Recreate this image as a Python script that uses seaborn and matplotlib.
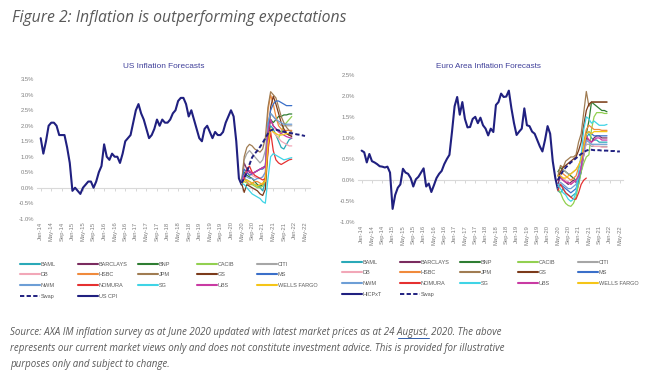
import numpy as np
import pandas as pd
import matplotlib
matplotlib.use("Agg")
import matplotlib.pyplot as plt
import seaborn as sns
from matplotlib.lines import Line2D

# ---------------- data ----------------
tick_labels = ["Jan-14", "May-14", "Sep-14", "Jan-15", "May-15", "Sep-15", "Jan-16", "May-16", "Sep-16",
               "Jan-17", "May-17", "Sep-17", "Jan-18", "May-18", "Sep-18", "Jan-19", "May-19", "Sep-19",
               "Jan-20", "May-20", "Sep-20", "Jan-21", "May-21", "Sep-21", "Jan-22", "May-22"]
forecasters = ["BAML", "BARCLAYS", "BNP", "CACIB", "CITI", "DB", "HSBC", "JPM", "GS", "MS",
               "NWM", "NOMURA", "SG", "UBS", "WELLS FARGO"]

# US CPI y/y %, Jan-14 .. May-20 (monthly)
us_cpi = [1.6, 1.1, 1.5, 2.0, 2.1, 2.1, 2.0, 1.7, 1.7, 1.7, 1.3, 0.8,
          -0.1, 0.0, -0.1, -0.2, 0.0, 0.1, 0.2, 0.2, 0.0, 0.2, 0.5, 0.7,
          1.4, 1.0, 0.9, 1.1, 1.0, 1.0, 0.8, 1.1, 1.5, 1.6, 1.7, 2.1,
          2.5, 2.7, 2.4, 2.2, 1.9, 1.6, 1.7, 1.9, 2.2, 2.0, 2.2, 2.1,
          2.1, 2.2, 2.4, 2.5, 2.8, 2.9, 2.9, 2.7, 2.3, 2.5, 2.2, 1.9,
          1.6, 1.5, 1.9, 2.0, 1.8, 1.6, 1.8, 1.7, 1.7, 1.8, 2.1, 2.3,
          2.5, 2.3, 1.5, 0.3, 0.1]
# US swap-implied path, May-20 .. May-22
us_swap = [0.15, 0.3, 0.5, 0.75, 0.98, 1.1, 1.2, 1.32, 1.45, 1.6, 1.75, 1.85, 1.88,
           1.87, 1.85, 1.83, 1.81, 1.79, 1.77, 1.76, 1.74, 1.72, 1.71, 1.69, 1.67]
# US forecasts, May-20 .. Dec-21
us_baml = [0.15, 0.3, 0.25, 0.2, 0.15, 0.1, 0.05, 0.0, -0.1, 0.2, 1.6, 2.0, 1.9, 1.7, 1.5, 1.3, 1.25, 1.4, 1.55, 1.6]
us_barclays = [0.15, 0.8, 0.6, 0.5, 0.45, 0.5, 0.55, 0.6, 0.65, 0.7, 1.9, 2.2, 2.0, 1.9, 1.85, 1.8, 1.8, 1.75, 1.7, 1.7]
us_bnp = [0.15, 0.5, 0.4, 0.35, 0.3, 0.2, 0.1, 0.05, 0.1, 0.3, 1.8, 2.2, 2.1, 2.2, 2.3, 2.3, 2.35, 2.35, 2.38, 2.38]
us_cacib = [0.15, 0.2, 0.15, 0.1, 0.1, 0.05, 0.0, 0.0, 0.05, 0.2, 1.5, 1.9, 1.8, 1.7, 1.6, 1.8, 2.0, 2.1, 2.2, 2.3]
us_citi = [0.15, 0.9, 1.1, 1.2, 1.1, 1.0, 0.9, 0.8, 0.9, 1.2, 2.0, 2.4, 2.3, 2.2, 2.1, 2.0, 2.0, 2.0, 2.0, 2.0]
us_db = [0.15, 0.4, 0.5, 0.45, 0.4, 0.35, 0.3, 0.3, 0.35, 0.5, 1.6, 1.9, 1.8, 1.7, 1.6, 1.5, 1.45, 1.4, 1.35, 1.35]
us_hsbc = [0.15, 0.3, 0.2, 0.1, 0.15, 0.2, 0.2, 0.15, 0.1, 0.3, 2.5, 3.0, 2.7, 2.3, 2.0, 1.9, 1.85, 1.85, 1.85, 1.85]
us_jpm = [0.15, 1.0, 1.3, 1.4, 1.35, 1.25, 1.2, 1.15, 1.25, 1.6, 2.6, 3.1, 3.0, 2.9, 2.6, 2.3, 2.1, 1.95, 1.85, 1.8]
us_gs = [0.15, -0.15, 0.1, 0.05, 0.0, -0.05, -0.1, -0.2, -0.25, -0.05, 1.2, 2.6, 2.95, 2.7, 2.4, 2.1, 1.9, 1.75, 1.7, 1.65]
us_ms = [0.15, 0.6, 0.5, 0.4, 0.45, 0.5, 0.55, 0.6, 0.6, 0.7, 2.0, 2.5, 2.7, 2.8, 2.8, 2.75, 2.7, 2.65, 2.65, 2.65]
us_nwm = [0.15, 0.4, 0.35, 0.3, 0.3, 0.25, 0.3, 0.3, 0.35, 0.5, 2.1, 2.4, 2.3, 2.2, 2.15, 2.1, 2.05, 2.05, 2.05, 2.05]
us_nomura = [0.15, 0.3, 0.6, 0.7, 0.5, 0.4, 0.35, 0.3, 0.25, 0.3, 1.2, 1.8, 1.2, 0.9, 0.8, 0.75, 0.8, 0.85, 0.9, 0.92]
us_sg = [0.15, 0.1, 0.0, -0.1, -0.2, -0.25, -0.3, -0.35, -0.45, -0.5, 0.3, 1.0, 1.1, 1.05, 1.0, 0.95, 0.9, 0.92, 0.95, 0.97]
us_ubs = [0.15, 0.4, 0.5, 0.55, 0.45, 0.5, 0.55, 0.6, 0.65, 0.65, 1.8, 2.2, 2.0, 1.9, 1.8, 1.75, 1.7, 1.65, 1.62, 1.6]
us_wells = [0.15, 0.2, 0.25, 0.2, 0.15, 0.1, 0.05, 0.1, 0.15, 0.2, 1.4, 1.9, 1.8, 1.75, 1.7, 1.7, 1.72, 1.75, 1.75, 1.75]

# Euro area HICPxT y/y %, Jan-14 .. May-20
ea_hicp = [0.70, 0.66, 0.42, 0.62, 0.45, 0.42, 0.38, 0.33, 0.32, 0.30, 0.32, 0.18,
           -0.68, -0.35, -0.18, -0.10, 0.27, 0.18, 0.15, 0.05, -0.15, 0.02, 0.08, 0.18,
           0.28, -0.15, -0.08, -0.28, -0.12, 0.05, 0.15, 0.22, 0.38, 0.50, 0.60, 1.15,
           1.75, 1.97, 1.55, 1.85, 1.45, 1.25, 1.26, 1.45, 1.50, 1.35, 1.48, 1.30,
           1.22, 1.06, 1.22, 1.14, 1.78, 1.85, 2.05, 1.97, 1.98, 2.12, 1.70, 1.35,
           1.07, 1.15, 1.22, 1.70, 1.30, 1.28, 1.15, 1.10, 0.95, 0.80, 0.68, 0.95,
           1.28, 1.10, 0.45, 0.05, -0.22]
# Euro swap-implied path, May-20 .. May-22
ea_swap = [0.0, 0.12, 0.22, 0.3, 0.36, 0.42, 0.47, 0.52, 0.57, 0.62, 0.66, 0.70, 0.72,
           0.72, 0.71, 0.71, 0.71, 0.70, 0.70, 0.70, 0.69, 0.69, 0.69, 0.68, 0.68]
# Euro forecasts, May-20 .. Dec-21
ea_baml = [-0.25, -0.30, -0.20, -0.30, -0.35, -0.40, -0.35, -0.30, -0.10, 0.20, 0.70, 1.00, 1.10, 1.00, 0.95, 0.95, 0.90, 0.90, 0.90, 0.90]
ea_barclays = [-0.10, 0.10, 0.00, -0.05, -0.10, -0.05, 0.00, -0.05, 0.00, 0.20, 0.60, 1.00, 0.95, 0.90, 1.00, 1.05, 1.05, 1.00, 1.00, 1.00]
ea_bnp = [0.20, 0.30, 0.25, 0.20, 0.15, 0.10, 0.05, 0.00, 0.10, 0.30, 0.60, 1.10, 1.40, 1.85, 1.80, 1.75, 1.70, 1.65, 1.65, 1.62]
ea_cacib = [-0.20, -0.30, -0.45, -0.55, -0.60, -0.62, -0.55, -0.40, -0.10, 0.20, 0.40, 0.55, 0.60, 1.20, 1.50, 1.60, 1.60, 1.60, 1.58, 1.58]
ea_citi = [0.10, 0.20, 0.25, 0.20, 0.15, 0.15, 0.20, 0.25, 0.35, 0.50, 0.70, 0.85, 0.85, 0.80, 0.80, 0.80, 0.80, 0.80, 0.80, 0.80]
ea_db = [0.00, 0.10, 0.05, 0.00, -0.05, -0.10, -0.05, 0.00, 0.10, 0.30, 0.60, 0.90, 0.95, 0.85, 0.80, 0.80, 0.80, 0.78, 0.78, 0.78]
ea_hsbc = [0.00, 0.20, 0.15, 0.10, 0.05, 0.00, 0.05, 0.10, 0.30, 0.50, 0.90, 1.20, 1.30, 1.25, 1.20, 1.20, 1.20, 1.18, 1.18, 1.18]
ea_jpm = [0.10, 0.35, 0.30, 0.45, 0.50, 0.55, 0.55, 0.60, 0.90, 1.10, 1.60, 2.10, 1.75, 1.85, 1.85, 1.85, 1.85, 1.85, 1.85, 1.85]
ea_gs = [0.00, 0.20, 0.30, 0.35, 0.40, 0.45, 0.50, 0.55, 0.70, 0.90, 1.30, 1.65, 1.80, 1.85, 1.85, 1.85, 1.85, 1.85, 1.85, 1.85]
ea_ms = [-0.20, -0.10, -0.15, -0.20, -0.25, -0.30, -0.25, -0.20, 0.00, 0.30, 0.80, 1.10, 1.15, 1.10, 1.05, 1.05, 1.05, 1.05, 1.05, 1.05]
ea_nwm = [-0.15, -0.05, -0.10, -0.15, -0.20, -0.20, -0.15, -0.10, 0.05, 0.30, 0.70, 0.95, 0.90, 0.85, 0.85, 0.85, 0.85, 0.85, 0.85, 0.85]
ea_nomura = [-0.25, -0.10, -0.20, -0.30, -0.35, -0.40, -0.45, -0.45, -0.30, -0.10, 0.00, 0.05]
ea_sg = [-0.10, -0.20, -0.30, -0.35, -0.45, -0.50, -0.45, -0.30, 0.20, 0.60, 1.20, 1.50, 1.45, 1.35, 1.40, 1.35, 1.30, 1.30, 1.30, 1.32]
ea_ubs = [0.00, 0.05, 0.00, -0.05, -0.05, -0.10, -0.05, 0.00, 0.10, 0.30, 0.80, 1.05, 0.95, 0.90, 0.95, 1.00, 1.00, 0.95, 0.95, 0.95]
ea_wells = [0.10, 0.10, 0.05, 0.05, 0.10, 0.15, 0.20, 0.25, 0.35, 0.50, 0.80, 1.10, 1.15, 1.10, 1.15, 1.15, 1.15, 1.15, 1.15, 1.15]

us_forecasts = [us_baml, us_barclays, us_bnp, us_cacib, us_citi, us_db, us_hsbc, us_jpm, us_gs,
                us_ms, us_nwm, us_nomura, us_sg, us_ubs, us_wells]
ea_forecasts = [ea_baml, ea_barclays, ea_bnp, ea_cacib, ea_citi, ea_db, ea_hsbc, ea_jpm, ea_gs,
                ea_ms, ea_nwm, ea_nomura, ea_sg, ea_ubs, ea_wells]
FC_START = 76  # May-20 month index (Jan-14 = 0)

# ---------------- style ----------------
palette = {"BAML": "#2aa9b8", "BARCLAYS": "#7a2b5f", "BNP": "#2e7d32", "CACIB": "#92d050",
           "CITI": "#a6a6a6", "DB": "#f2a7b8", "HSBC": "#f08a3c", "JPM": "#a07c52",
           "GS": "#7b3a1a", "MS": "#3a6fc9", "NWM": "#6d9ed6", "NOMURA": "#e53030",
           "SG": "#3fd4e6", "UBS": "#c93aa3", "WELLS FARGO": "#f5c518"}
NAVY = "#202080"
GREY_TXT = "#7f7f7f"
DASH = (0, (2.2, 1.2))

sns.set_theme(style="white")
plt.rcParams["font.family"] = ["Liberation Sans Narrow", "Liberation Sans", "DejaVu Sans"]


def long_df(names, arrays, start):
    rows = []
    for n, arr in zip(names, arrays):
        for i, v in enumerate(arr):
            rows.append((start + i, v, n))
    return pd.DataFrame(rows, columns=["month", "value", "series"])


def single_df(arr, start):
    return pd.DataFrame({"month": np.arange(start, start + len(arr)), "value": arr})


fig = plt.figure(figsize=(6.55, 3.83), dpi=100)
W, H = 655.0, 383.0


def px_axes(x0, y0, x1, y1):
    return fig.add_axes([x0 / W, 1 - y1 / H, (x1 - x0) / W, (y1 - y0) / H])


def draw_panel(ax, hist, swap, forecasts, ylim, yticks, xlim):
    sns.lineplot(data=single_df(hist, 0), x="month", y="value", color=NAVY, lw=1.5,
                 ax=ax, estimator=None, zorder=3)
    sns.lineplot(data=long_df(forecasters, forecasts, FC_START), x="month", y="value",
                 hue="series", hue_order=forecasters, palette=palette, lw=0.9,
                 ax=ax, estimator=None, legend=False, zorder=4)
    sns.lineplot(data=single_df(swap, FC_START), x="month", y="value", color=NAVY, lw=1.4,
                 linestyle=DASH, ax=ax, estimator=None, zorder=5)
    ax.set_xlim(*xlim)
    ax.set_ylim(*ylim)
    ax.set_yticks(yticks)
    ax.set_yticklabels([f"{v:.1f}%" for v in yticks])
    ax.set_xticks(np.arange(0, 101, 4))
    ax.set_xticklabels(tick_labels, rotation=90)
    ax.tick_params(axis="both", length=0, labelsize=4.2, colors=GREY_TXT, pad=2)
    ax.set_xlabel("")
    ax.set_ylabel("")
    for s in ax.spines.values():
        s.set_visible(False)
    ax.grid(False)
    # Excel-style horizontal category axis crossing at 0 %, with its small tick marks
    zero_pos = (0 - ylim[0]) / (ylim[1] - ylim[0])
    sec = ax.secondary_xaxis(zero_pos)
    sec.set_xticks(np.arange(0, 101, 4))
    sec.set_xticklabels([])
    sec.tick_params(axis="x", length=1.8, width=0.6, color="#d0d0d0", direction="out")
    for name, s in sec.spines.items():
        s.set_color("#d9d9d9")
        s.set_linewidth(0.8)


ax1 = px_axes(37, 79.3, 310, 218.7)
draw_panel(ax1, us_cpi, us_swap, us_forecasts, (-1.0, 3.5),
           [-1.0, -0.5, 0.0, 0.5, 1.0, 1.5, 2.0, 2.5, 3.0, 3.5], (-1.4, 101.9))
ax2 = px_axes(358, 74.6, 623, 222.4)
draw_panel(ax2, ea_hicp, ea_swap, ea_forecasts, (-1.0, 2.5),
           [-1.0, -0.5, 0.0, 0.5, 1.0, 1.5, 2.0, 2.5], (-1.4, 101.2))

title_col = "#40409a"
t_us = fig.text(164 / W, 1 - 67 / H, "US Inflation Forecasts", ha="center", va="center",
                fontsize=6.2, color=title_col)
t_ea = fig.text(488 / W, 1 - 66 / H, "Euro Area Inflation Forecasts", ha="center", va="center",
                fontsize=6.2, color=title_col)


# ---------------- legends (one per column, Excel-like grid) ----------------
def handle(name):
    if name == "Swap":
        return Line2D([], [], color=NAVY, lw=1.4, linestyle=DASH)
    if name in ("US CPI", "HICPxT"):
        return Line2D([], [], color=NAVY, lw=1.5)
    return Line2D([], [], color=palette[name], lw=1.5)


def grid_legend(rows, xs, ytop):
    ncols = len(xs)
    for c in range(ncols):
        names = [r[c] for r in rows if c < len(r)]
        leg = fig.legend([handle(n) for n in names], names, loc="upper left",
                         bbox_to_anchor=(xs[c] / W, 1 - ytop / H), frameon=False,
                         fontsize=4.0, handlelength=3.6, handletextpad=0.1,
                         labelspacing=1.05, borderpad=0, borderaxespad=0)
        for t in leg.get_texts():
            t.set_color("#595959")


rows_us = [forecasters[0:5], forecasters[5:10], forecasters[10:15], ["Swap", "US CPI"]]
rows_ea = [forecasters[0:5], forecasters[5:10], forecasters[10:15], ["HICPxT", "Swap"]]
grid_legend(rows_us, [20, 78, 138, 197, 257], 261.5)
grid_legend(rows_ea, [342, 400, 460, 518, 578], 259.5)

# ---------------- headline and source ----------------
TXT_FONT = ["Open Sans", "DejaVu Sans"]
t_head = fig.text(12 / W, 1 - 18 / H, "Figure 2: Inflation is outperforming expectations",
                  ha="left", va="center", fontsize=9.6, style="italic", color="#595959",
                  family=TXT_FONT)
src = ["Source: AXA IM inflation survey as at June 2020 updated with latest market prices as at 24 August, 2020. The above",
       "represents our current market views only and does not constitute investment advice. This is provided for illustrative",
       "purposes only and subject to change."]
src_texts = []
for i, line in enumerate(src):
    src_texts.append(fig.text(10 / W, 1 - (333 + 15.5 * i) / H, line, ha="left", va="center",
                              fontsize=6.9, style="italic", color="#595959", family=TXT_FONT))

# fit text sizes to the widths measured on the reference
fig.canvas.draw()
rend = fig.canvas.get_renderer()


def fit(t, target_px):
    w = t.get_window_extent(rend).width
    return t.get_fontsize() * target_px / w


t_head.set_fontsize(fit(t_head, 334))
t_us.set_fontsize(fit(t_us, 82))
t_ea.set_fontsize(fit(t_ea, 106))
fs_src = fit(src_texts[0], 492)
for t in src_texts:
    t.set_fontsize(fs_src)

# blue proofing underline beneath "August," as in the reference
line0 = src[0]
i0 = line0.index("August,")
probe_pre = fig.text(10 / W, 0.5, line0[:i0], fontsize=fs_src, style="italic", family=TXT_FONT)
probe_word = fig.text(10 / W, 0.5, "August,", fontsize=fs_src, style="italic", family=TXT_FONT)
fig.canvas.draw()
w_pre = probe_pre.get_window_extent(rend).width
w_word = probe_word.get_window_extent(rend).width
probe_pre.remove()
probe_word.remove()
x_start = 10 + w_pre + 1
y_ul = 333 + 5.2
fig.add_artist(Line2D([x_start / W, (x_start + w_word - 1) / W], [1 - y_ul / H, 1 - y_ul / H],
                      transform=fig.transFigure, color="#2f5aa8", lw=0.7))

fig.savefig("out.png", dpi=100)
